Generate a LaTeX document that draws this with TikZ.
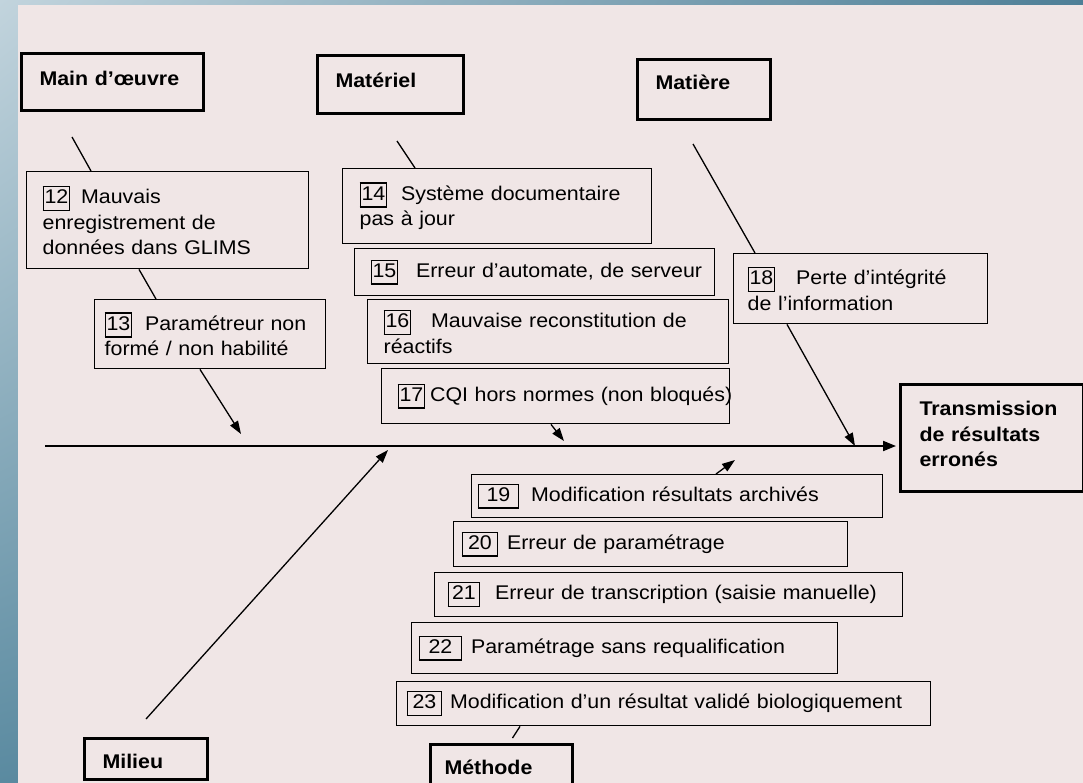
\documentclass[tikz,border=0pt]{standalone}
\usepackage{fontspec}
\setmainfont{Liberation Sans}[FakeStretch=1.08]
\usetikzlibrary{arrows.meta, positioning, shadings}

\definecolor{panel}{HTML}{F0E6E6}
\definecolor{frameA}{HTML}{C2D4DD}
\definecolor{frameB}{HTML}{4E7F97}
\definecolor{frameC}{HTML}{5A8AA0}
\definecolor{frameD}{HTML}{3F6E86}

\setlength{\fboxrule}{1.3pt}
\setlength{\fboxsep}{0.5pt}
% small framed number in front of each cause
\newcommand{\numbox}[2][0pt]{\fbox{\rule[-5.5pt]{0pt}{21.5pt}\hspace{#1}#2\hspace{#1}}}

\begin{document}
\begin{tikzpicture}[x=1pt, y=-1pt,
  cause/.style={draw, line width=1.4pt, anchor=north west, align=left,
    inner ysep=0pt, font=\fontsize{19.8pt}{25.5pt}\selectfont},
  head/.style={draw, line width=3pt, anchor=north west, align=left,
    inner ysep=0pt, text height=32pt, font=\fontsize{19.8pt}{25.5pt}\selectfont\bfseries},
  spoke/.style={line width=1.3pt},
  tip/.style={spoke, -{Triangle[length=13pt,width=9pt]}},
  spine/.style={line width=2pt, -{Triangle[length=13pt,width=10pt]}}]

  \useasboundingbox (0pt,0pt) rectangle (1083pt,-783pt);
  \clip (0pt,0pt) rectangle (1083pt,-783pt);
  \shade[upper left=frameA, upper right=frameB, lower left=frameC, lower right=frameD]
    (0pt,0pt) rectangle (1083pt,-783pt);
  \fill[panel] (18pt,-5pt) rectangle (1083pt,-783pt);

  % the six families
  \node[head, inner xsep=18pt, text width=146pt, text depth=25pt] (hmain) at (20,52) {Main d’œuvre};
  \node[head, inner xsep=18pt, text width=110pt, text depth=26pt] (hmat) at (316,54) {Matériel};
  \node[head, inner xsep=18pt, text width=97pt, text depth=30pt, text height=30pt] (hmatiere) at (636,58) {Matière};
  \node[head, inner xsep=18pt, text width=87pt, text depth=11pt, text height=30pt] (hmil) at (83,737) {Milieu};
  \node[head, inner xsep=14pt, text width=114pt, text depth=15pt, text height=30pt] (hmeth) at (429,743) {Méthode};
  \node[head, inner xsep=19pt, text width=145pt, text depth=76pt, text height=31pt] (htr) at (899,383)
    {Transmission\\de résultats\\erronés};

  % causes
  \node[cause, inner xsep=16pt, text width=250pt, minimum height=97pt] (c12) at (26,171)
    {\numbox{12}\hspace{11pt}Mauvais\\enregistrement de\\données dans GLIMS};
  \node[cause, inner xsep=10pt, text width=211pt, minimum height=69pt] (c13) at (94,299)
    {\numbox{13}\hspace{13pt}Paramétreur non\\formé / non habilité};
  \node[cause, inner xsep=17pt, text width=275pt, minimum height=75pt] (c14) at (342,168)
    {\numbox{14}\hspace{14pt}Système documentaire\\pas à jour};
  \node[cause, inner xsep=16pt, text width=328pt, minimum height=47pt] (c15) at (354,248)
    {\mbox{\numbox{15}\hspace{18pt}Erreur d’automate, de serveur}};
  \node[cause, inner xsep=16pt, text width=329pt, minimum height=64pt] (c16) at (367,299)
    {\numbox{16}\hspace{20pt}Mauvaise reconstitution de\\réactifs};
  \node[cause, inner xsep=16pt, text width=316pt, minimum height=55pt] (c17) at (381,368)
    {\mbox{\numbox{17}\hspace{5pt}CQI hors normes (non bloqués)}};
  \node[cause, inner xsep=14pt, text width=226pt, minimum height=70pt] (c18) at (733,253)
    {\numbox{18}\hspace{21pt}Perte d’intégrité\\de l’information};
  \node[cause, inner xsep=6pt, text width=399pt, minimum height=43pt] (c19) at (471,474)
    {\numbox[7pt]{19}\hspace{12pt}Modification résultats archivés};
  \node[cause, inner xsep=8pt, text width=378pt, minimum height=45pt] (c20) at (453,521)
    {\numbox[4.5pt]{20}\hspace{9pt}Erreur de paramétrage};
  \node[cause, inner xsep=13pt, text width=442pt, minimum height=44pt] (c21) at (434,572)
    {\numbox[2.5pt]{21}\hspace{15pt}Erreur de transcription (saisie manuelle)};
  \node[cause, inner xsep=7pt, text width=412pt, minimum height=51pt] (c22) at (411,622)
    {\numbox[8pt]{22}\hspace{9pt}Paramétrage sans requalification};
  \node[cause, inner xsep=10pt, text width=514pt, minimum height=44pt] (c23) at (396,681)
    {\numbox[4pt]{23}\hspace{8pt}Modification d’un résultat validé biologiquement};

  % spine
  \coordinate (sp0) at (45,446);
  \draw[spine, shorten >=3pt] (sp0) -- (sp0 -| htr.west);

  % bones
  \coordinate (mo0) at (72,137);
  \coordinate (mo1) at (241,434);
  \draw[spoke] (mo0) -- ([xshift=65pt]c12.north west);
  \draw[spoke] ([xshift=113pt]c12.south west) -- ([xshift=62pt]c13.north west);
  \draw[tip] ([xshift=106pt]c13.south west) -- (mo1);

  \coordinate (mt0) at (397,141);
  \coordinate (mt1) at (564,441);
  \draw[spoke] (mt0) -- ([xshift=73pt]c14.north west);
  \draw[tip] ([xshift=170pt]c17.south west) -- (mt1);

  \coordinate (ma0) at (693,144);
  \coordinate (ma1) at (855,446);
  \draw[spoke] (ma0) -- ([xshift=22pt]c18.north west);
  \draw[tip] ([xshift=54pt]c18.south west) -- (ma1);

  \coordinate (mi1) at (388,450);
  \draw[tip] ([yshift=18pt]hmil.north) -- (mi1);

  \coordinate (me1) at (735,460);
  \draw[spoke] ([xshift=11pt,yshift=5pt]hmeth.north) -- ([xshift=124pt]c23.south west);
  \draw[tip] ([xshift=245pt]c19.north west) -- (me1);
\end{tikzpicture}
\end{document}
